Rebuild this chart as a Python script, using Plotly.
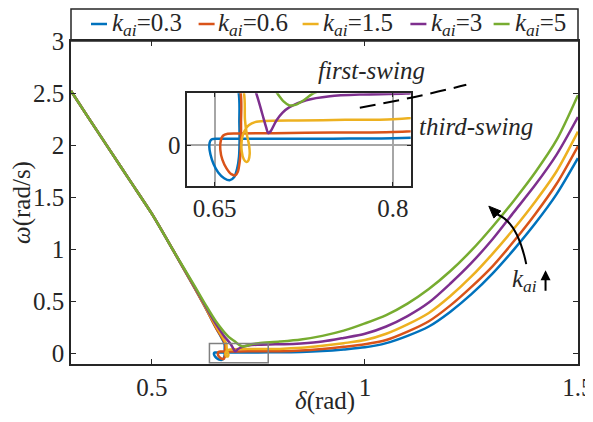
import plotly.graph_objects as go

# ---------------- data ----------------
k_values = ["0.3", "0.6", "1.5", "3", "5"]
colors = ["#0072BD", "#D95319", "#EDB120", "#7E2F8E", "#77AC30"]

# common descending branch
delta_descent = [0.31, 0.35, 0.40, 0.45, 0.50, 0.55]
omega_descent = [2.52, 2.27, 1.96, 1.65, 1.34, 0.99]

delta_k03 = [0.60, 0.625, 0.65, 0.6703, 0.6708, 0.671, 0.6705, 0.669, 0.6665, 0.6626, 0.658, 0.653,
             0.649, 0.6465, 0.6455, 0.6462, 0.648, 0.652, 0.66, 0.70, 0.75, 0.80, 0.85, 0.90, 0.95,
             1.00, 1.05, 1.10, 1.15, 1.20, 1.25, 1.30, 1.35, 1.40, 1.45, 1.50]
omega_k03 = [0.63, 0.445, 0.25, 0.09, 0.04, 0.01, -0.02, -0.04, -0.055, -0.0607, -0.057, -0.047,
             -0.032, -0.016, -0.002, 0.007, 0.0105, 0.0112, 0.0112, 0.0112, 0.0115, 0.012, 0.016, 0.025, 0.04,
             0.06, 0.10, 0.17, 0.26, 0.40, 0.57, 0.77, 1.00, 1.25, 1.53, 1.875]

delta_k06 = [0.60, 0.625, 0.65, 0.6719, 0.6722, 0.6721, 0.671, 0.6695, 0.6675, 0.664, 0.66, 0.6565,
             0.6548, 0.6552, 0.657, 0.661, 0.67, 0.70, 0.75, 0.80, 0.85, 0.90, 0.95,
             1.00, 1.05, 1.10, 1.15, 1.20, 1.25, 1.30, 1.35, 1.40, 1.45, 1.50]
omega_k06 = [0.63, 0.445, 0.25, 0.09, 0.04, 0.0, -0.03, -0.046, -0.052, -0.05, -0.04, -0.025,
             -0.008, 0.008, 0.0165, 0.0198, 0.0203, 0.021, 0.022, 0.023, 0.03, 0.045, 0.065,
             0.09, 0.13, 0.21, 0.31, 0.46, 0.64, 0.84, 1.08, 1.34, 1.63, 1.99]

delta_k15 = [0.60, 0.625, 0.65, 0.6747, 0.6755, 0.677, 0.679, 0.6795, 0.6785, 0.6767, 0.6745, 0.6728,
             0.6726, 0.6738, 0.676, 0.679, 0.684, 0.692, 0.72, 0.76, 0.80, 0.85, 0.90, 0.95,
             1.00, 1.05, 1.10, 1.15, 1.20, 1.25, 1.30, 1.35, 1.40, 1.45, 1.50]
omega_k15 = [0.635, 0.45, 0.265, 0.09, 0.045, 0.02, 0.0, -0.015, -0.026, -0.029, -0.024, -0.01,
             0.005, 0.018, 0.028, 0.035, 0.04, 0.042, 0.043, 0.044, 0.045, 0.055, 0.075, 0.10,
             0.13, 0.19, 0.28, 0.39, 0.55, 0.74, 0.96, 1.20, 1.46, 1.75, 2.13]

delta_k3 = [0.60, 0.625, 0.65, 0.67, 0.685, 0.690, 0.6935, 0.695, 0.697, 0.702, 0.707, 0.713, 0.727,
            0.747, 0.775, 0.811, 0.85, 0.90, 0.95, 1.00, 1.05, 1.10, 1.15, 1.20, 1.25, 1.30, 1.35,
            1.40, 1.45, 1.50]
omega_k3 = [0.64, 0.46, 0.285, 0.165, 0.09, 0.055, 0.03, 0.021, 0.024, 0.043, 0.056, 0.066, 0.078,
            0.085, 0.088, 0.0896, 0.097, 0.115, 0.15, 0.19, 0.26, 0.36, 0.49, 0.67, 0.87, 1.10, 1.36,
            1.62, 1.91, 2.27]

delta_k5 = [0.60, 0.625, 0.65, 0.68, 0.695, 0.702, 0.708, 0.713, 0.718, 0.725, 0.733, 0.75, 0.80,
            0.85, 0.90, 0.95, 1.00, 1.05, 1.10, 1.15, 1.20, 1.25, 1.30, 1.35, 1.40, 1.45, 1.50]
omega_k5 = [0.65, 0.475, 0.31, 0.16, 0.115, 0.092, 0.076, 0.069, 0.07, 0.078, 0.09, 0.10, 0.115,
            0.135, 0.17, 0.22, 0.29, 0.37, 0.48, 0.62, 0.79, 0.99, 1.22, 1.47, 1.74, 2.05, 2.48]

series_delta = [delta_k03, delta_k06, delta_k15, delta_k3, delta_k5]
series_omega = [omega_k03, omega_k06, omega_k15, omega_k3, omega_k5]

x_ticks = [0.5, 1, 1.5]
y_ticks = [0, 0.5, 1, 1.5, 2, 2.5, 3]
inset_x_ticks = [0.65, 0.8]
inset_y_ticks = [0]

# ---------------- figure ----------------
FONT = "'Liberation Serif', 'Times New Roman', Times, serif"
FS = 25
INK = "#262626"
OFF = 8  # page body margin of the browser
W, H = 593 - OFF, 422 - OFF
# plot area in page pixels: x 70.7..578, y 41..364
ML, MR, MT, MB = 71 - OFF, 593 - 578, 41 - OFF, 422 - 364
PW, PH = W - ML - MR, H - MT - MB

fig = go.Figure()
for d, o, c, k in zip(series_delta, series_omega, colors, k_values):
    xs = delta_descent + d
    ys = omega_descent + o
    fig.add_trace(go.Scatter(x=xs, y=ys, mode="lines",
                             line=dict(color=c, width=2.5, shape="spline", smoothing=0.8),
                             name=f"k_ai={k}", showlegend=False, xaxis="x", yaxis="y"))
    fig.add_trace(go.Scatter(x=xs, y=ys, mode="lines",
                             line=dict(color=c, width=2.5, shape="spline", smoothing=0.8),
                             showlegend=False, xaxis="x2", yaxis="y2"))

axis_common = dict(showline=True, linecolor=INK, linewidth=1.5, mirror="ticks",
                   ticks="inside", ticklen=5, tickwidth=1.2, tickcolor=INK,
                   showgrid=False, zeroline=False, automargin=False,
                   ticklabeloverflow="allow",
                   tickfont=dict(family=FONT, size=FS, color=INK))
inset_common = dict(showline=True, linecolor=INK, linewidth=1.5, mirror="ticks",
                    ticks="inside", ticklen=4, tickcolor=INK,
                    showgrid=True, gridcolor="#a6a6a6", gridwidth=1.5, zeroline=False,
                    automargin=False, ticklabeloverflow="allow",
                    tickfont=dict(family=FONT, size=FS, color=INK))

def page_to_paper(px, py):
    return (px - OFF - ML) / PW, (H - MB - (py - OFF)) / PH

ix0, iy0 = page_to_paper(187.3, 185.7)
ix1, iy1 = page_to_paper(410.7, 93.3)

fig.update_layout(
    width=W, height=H,
    margin=dict(l=ML, r=MR, t=MT, b=MB, autoexpand=False),
    paper_bgcolor="white", plot_bgcolor="white",
    font=dict(family=FONT, size=FS, color=INK),
    showlegend=False,
    xaxis=dict(range=[0.31, 1.5002], tickvals=x_ticks, ticktext=["0.5", "1", "1.5"],
               **axis_common),
    yaxis=dict(range=[-0.1, 3], tickvals=y_ticks, ticktext=["0", "0.5", "1", "1.5", "2", "2.5", "3"],
               title=dict(text="<i>ω</i>(rad/s)", font=dict(family=FONT, size=FS, color=INK), standoff=0),
               **axis_common),
    xaxis2=dict(domain=[ix0, ix1], anchor="y2", range=[0.627, 0.815],
                tickvals=inset_x_ticks, ticktext=["0.65", "0.8"], **inset_common),
    yaxis2=dict(domain=[iy0, iy1], anchor="x2", range=[-0.07, 0.09],
                tickvals=inset_y_ticks, ticktext=["0"], **inset_common),
)

shapes = []
annotations = []

# x axis title
_, xty = page_to_paper(0, 401)
annotations.append(dict(xref="paper", yref="paper", x=0.5, y=xty, xanchor="center", yanchor="middle",
                        showarrow=False, text="<i>δ</i>(rad)",
                        font=dict(family=FONT, size=FS, color=INK)))

# legend box above plot
_, ltop = page_to_paper(0, OFF + 1)
shapes.append(dict(type="rect", xref="paper", yref="paper", x0=0, x1=1, y0=1, y1=ltop,
                   line=dict(color=INK, width=1.5), fillcolor="white", layer="below"))
legend_line_x = [91, 198.6, 302.6, 410.4, 493.6]
legend_text_x = [109.7, 215.6, 320.7, 428.5, 512.5]
legend_y = 24
for lx, tx, c, k in zip(legend_line_x, legend_text_x, colors, k_values):
    x0, yy = page_to_paper(lx, legend_y)
    x1, _ = page_to_paper(lx + 16, legend_y)
    shapes.append(dict(type="line", xref="paper", yref="paper", x0=x0, x1=x1, y0=yy, y1=yy,
                       line=dict(color=c, width=2.5)))
    xt, _ = page_to_paper(tx, legend_y)
    annotations.append(dict(xref="paper", yref="paper", x=xt, y=yy, xanchor="left", yanchor="middle",
                            showarrow=False, text=f"<i>k</i><sub><i>ai</i></sub>={k}",
                            font=dict(family=FONT, size=FS, color=INK)))

# zoom rectangle in main plot
shapes.append(dict(type="rect", xref="x", yref="y", x0=0.635, x1=0.773, y0=-0.087, y1=0.096,
                   line=dict(color="#808080", width=1.5)))

# dashed pointer line
shapes.append(dict(type="path", xref="x", yref="y",
                   path="M 0.988,2.36 Q 1.113,2.45 1.238,2.58",
                   line=dict(color="black", width=2, dash="16px,8px")))

# curved arrow
shapes.append(dict(type="path", xref="x", yref="y",
                   path="M 1.3787,0.859 Q 1.3583,1.2625 1.311,1.335",
                   line=dict(color="black", width=2)))
shapes.append(dict(type="path", xref="x", yref="y",
                   path="M 1.2909,1.415 L 1.3191,1.368 L 1.3027,1.301 Z",
                   line=dict(color="black", width=1), fillcolor="black"))

# texts
fx, fy = page_to_paper(371, 71)
annotations.append(dict(xref="paper", yref="paper", x=fx, y=fy, xanchor="center", yanchor="middle",
                        showarrow=False, text="<i>first-swing</i>",
                        font=dict(family=FONT, size=FS, color=INK)))
tx_, ty_ = page_to_paper(476, 126)
annotations.append(dict(xref="paper", yref="paper", x=tx_, y=ty_, xanchor="center", yanchor="middle",
                        showarrow=False, text="<i>third-swing</i>",
                        font=dict(family=FONT, size=FS, color=INK)))
annotations.append(dict(xref="x", yref="y", x=1.375, y=0.705, xanchor="center", yanchor="middle",
                        showarrow=False, text="<i>k</i><sub><i>ai</i></sub>",
                        font=dict(family=FONT, size=FS, color=INK)))
annotations.append(dict(xref="x", yref="y", x=1.424, y=0.80, ax=0, ay=22, showarrow=True,
                        arrowhead=2, arrowsize=1, arrowwidth=2, arrowcolor="black", text=""))

fig.update_layout(shapes=shapes, annotations=annotations)
fig.write_html("out.html")
